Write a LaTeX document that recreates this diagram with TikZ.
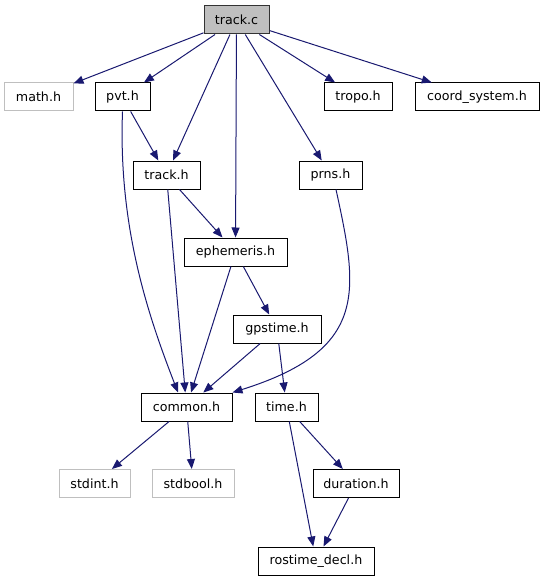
\documentclass[tikz,border=0pt]{standalone}
\usepackage{fontspec}
\setmainfont{DejaVu Sans}
\usepackage{tikz}
\usetikzlibrary{arrows.meta,calc}
\definecolor{dxblue}{HTML}{191970}
\definecolor{dxgray}{HTML}{BFBFBF}

\begin{document}
\begin{tikzpicture}[
    x=0.75pt,
    y=-0.75pt,
    font=\fontsize{9.5}{11}\selectfont,
    hdr/.style={rectangle, draw=black, line width=0.75pt, fill=white, minimum height=21pt, inner sep=0pt},
    sys/.style={hdr, draw=dxgray},
    src/.style={hdr, fill=dxgray, draw=black!80},
    wd/.style={minimum width=#1*0.75pt},
    dep/.style={-{Triangle[length=7.5pt,width=6pt]}, draw=dxblue, line width=0.75pt}
  ]
    \useasboundingbox (0,0) rectangle (544,581);

    % rows of the include graph
    \node[src, wd=65] (trackc) at (236.5,20) {track.c};
    \node[sys, wd=69] (math) at (38.5,97) {math.h};
    \node[hdr, wd=55] (pvt) at (122.5,97) {pvt.h};
    \node[hdr, wd=68] (tropo) at (358,97) {tropo.h};
    \node[hdr, wd=124] (coord) at (477,97) {coord\_system.h};
    \node[hdr, wd=67] (trackh) at (166.5,175) {track.h};
    \node[hdr, wd=63] (prns) at (330.5,175) {prns.h};
    \node[hdr, wd=103] (ephem) at (235.5,252) {ephemeris.h};
    \node[hdr, wd=88] (gpstime) at (277,329) {gpstime.h};
    \node[hdr, wd=91] (common) at (186.5,407) {common.h};
    \node[hdr, wd=63] (time) at (286.5,407) {time.h};
    \node[sys, wd=71] (stdint) at (94.5,483.5) {stdint.h};
    \node[sys, wd=82] (stdbool) at (193,483.5) {stdbool.h};
    \node[hdr, wd=86] (duration) at (356,483.5) {duration.h};
    \node[hdr, wd=116] (rostime) at (316,561) {rostime\_decl.h};

    % includes
    \draw[dep] (trackc) -- (math);
    \draw[dep] (trackc) -- (pvt);
    \draw[dep] (trackc) -- (trackh);
    \draw[dep] (trackc) -- (ephem);
    \draw[dep] (trackc) -- (prns);
    \draw[dep] (trackc) -- (tropo);
    \draw[dep] (trackc) -- (coord);
    \draw[dep] (pvt) -- (trackh);
    \draw[dep] (pvt.south) .. controls (118,230) and (150,320) .. ($(common.north)+(-8.5,0)$);
    \draw[dep] (trackh) -- (ephem);
    \draw[dep] (trackh) -- (common);
    \draw[dep] ($(prns.south)+(5.5,0)$) .. controls +(22,101) and +(137,-43) .. (common.north east);
    \draw[dep] (ephem) -- (common);
    \draw[dep] (ephem) -- (gpstime);
    \draw[dep] (gpstime) -- (common);
    \draw[dep] (gpstime) -- (time);
    \draw[dep] (common) -- (stdint);
    \draw[dep] (common) -- (stdbool);
    \draw[dep] (time) -- (duration);
    \draw[dep] (time) -- (rostime);
    \draw[dep] (duration) -- (rostime);
\end{tikzpicture}
\end{document}
